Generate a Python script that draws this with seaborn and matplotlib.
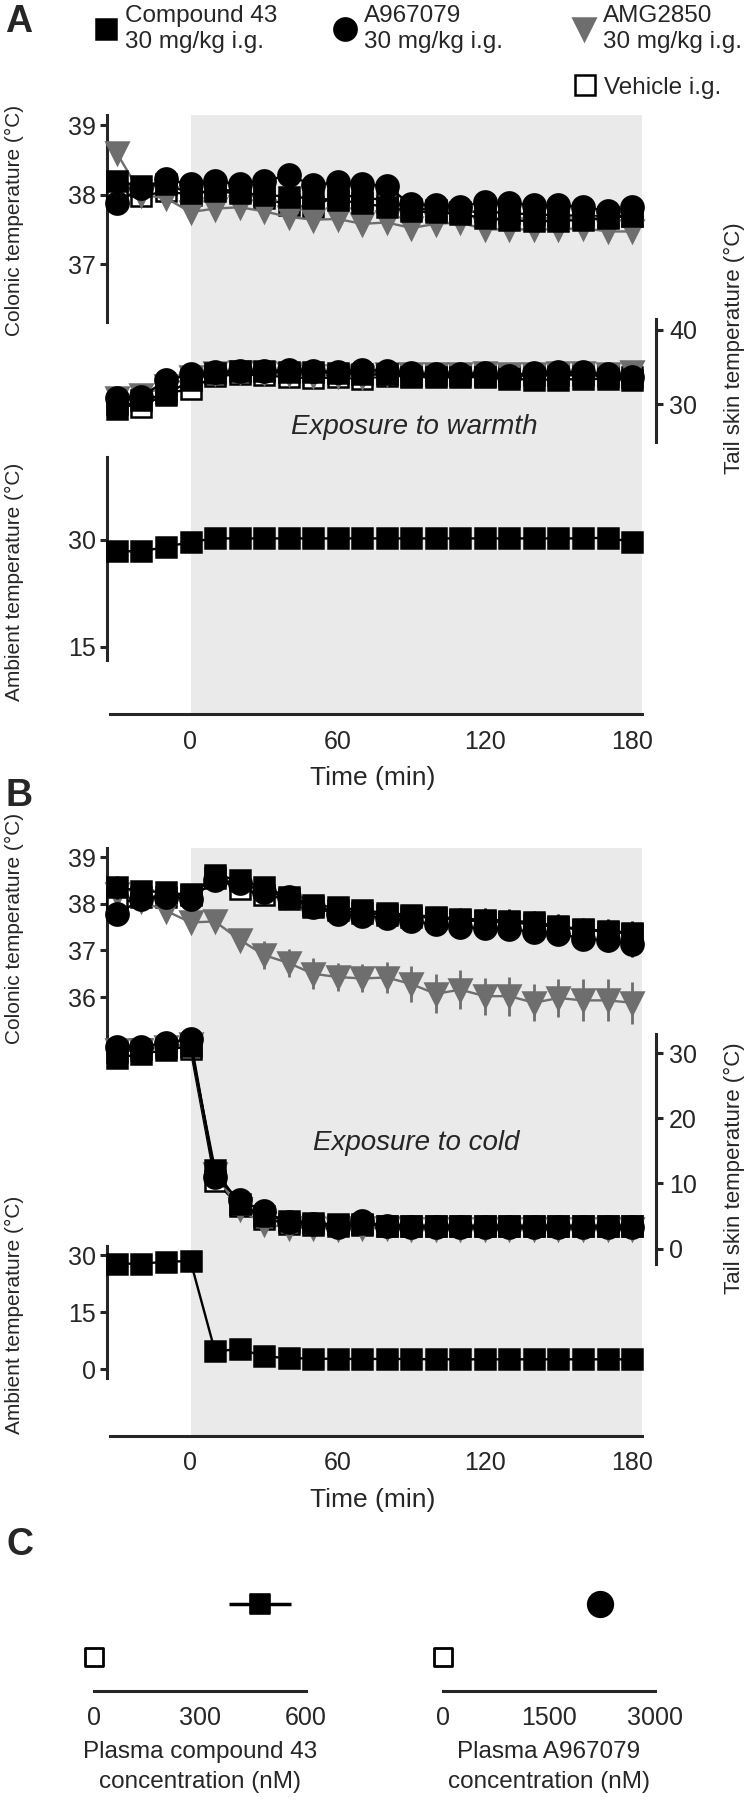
import matplotlib
matplotlib.use("Agg")
import matplotlib.pyplot as plt
import seaborn as sns
from matplotlib.lines import Line2D

# ---------------- data ----------------
time_min = [-30, -20, -10, 0, 10, 20, 30, 40, 50, 60, 70, 80, 90, 100,
            110, 120, 130, 140, 150, 160, 170, 180]

# Panel A (exposure to warmth)
warm_col_c43 = [38.20, 38.12, 38.15, 38.02, 38.05, 38.02, 38.00, 37.97, 37.95, 37.92, 37.88,
                37.82, 37.76, 37.75, 37.72, 37.66, 37.63, 37.62, 37.62, 37.64, 37.66, 37.70]
warm_col_a967 = [37.88, 38.10, 38.22, 38.15, 38.20, 38.15, 38.20, 38.28, 38.14, 38.18, 38.16,
                 38.12, 37.86, 37.85, 37.83, 37.90, 37.88, 37.85, 37.85, 37.82, 37.77, 37.82]
warm_col_amg = [38.60, 38.00, 37.95, 37.75, 37.80, 37.82, 37.76, 37.68, 37.64, 37.65, 37.58,
                37.60, 37.52, 37.58, 37.60, 37.50, 37.50, 37.50, 37.50, 37.52, 37.47, 37.47]
warm_col_veh = [38.02, 37.98, 38.05, 38.00, 38.08, 38.05, 37.95, 37.85, 37.82, 38.00, 37.96,
                37.92, 37.80, 37.78, 37.75, 37.76, 37.73, 37.72, 37.70, 37.70, 37.68, 37.70]
warm_col_err = [0.10] * 22

warm_tail_c43 = [29.4, 30.6, 31.3, 33.2, 34.2, 34.4, 34.4, 34.3, 34.3, 34.2, 34.0,
                 34.0, 33.7, 33.6, 33.7, 33.6, 33.4, 33.3, 33.3, 33.4, 33.4, 33.3]
warm_tail_a967 = [30.8, 31.0, 33.2, 34.0, 34.3, 34.5, 34.4, 34.6, 34.5, 34.3, 34.6,
                  34.5, 34.2, 34.0, 34.0, 34.2, 33.8, 34.2, 34.3, 34.3, 34.0, 33.7]
warm_tail_amg = [30.8, 31.2, 32.4, 33.6, 34.2, 34.3, 34.2, 34.0, 33.8, 33.8, 33.6,
                 34.0, 34.0, 34.1, 34.0, 34.2, 34.0, 34.1, 34.2, 34.2, 34.1, 34.3]
warm_tail_veh = [30.0, 29.6, 31.5, 32.0, 33.8, 34.0, 33.9, 33.6, 33.5, 33.6, 33.4,
                 33.8, 33.8, 33.9, 33.9, 33.8, 33.8, 33.9, 33.9, 33.9, 33.8, 33.6]
warm_tail_err = [0.5] * 22

warm_ambient = [28.4, 28.4, 29.0, 29.7, 30.2, 30.2, 30.2, 30.2, 30.2, 30.2, 30.2,
                30.2, 30.2, 30.2, 30.2, 30.2, 30.2, 30.2, 30.2, 30.2, 30.3, 29.7]

# Panel B (exposure to cold)
cold_col_c43 = [38.35, 38.27, 38.25, 38.18, 38.62, 38.50, 38.35, 38.15, 37.97, 37.92, 37.86,
                37.80, 37.76, 37.72, 37.68, 37.66, 37.64, 37.60, 37.52, 37.45, 37.42, 37.38]
cold_col_a967 = [37.77, 38.10, 38.15, 38.10, 38.50, 38.45, 38.26, 38.15, 37.92, 37.78, 37.73,
                 37.70, 37.62, 37.56, 37.50, 37.48, 37.45, 37.40, 37.36, 37.25, 37.22, 37.13]
cold_col_amg = [38.20, 38.05, 37.85, 37.60, 37.62, 37.23, 36.90, 36.73, 36.50, 36.43, 36.40,
                36.42, 36.28, 36.07, 36.16, 36.02, 36.02, 35.88, 35.98, 35.93, 35.93, 35.88]
cold_col_veh = [37.97, 38.15, 38.15, 38.20, 38.55, 38.32, 38.18, 38.10, 37.92, 37.86, 37.80,
                37.76, 37.72, 37.70, 37.65, 37.62, 37.60, 37.56, 37.50, 37.44, 37.40, 37.36]
cold_col_err_c43 = [0.25, 0.12, 0.12, 0.10, 0.15, 0.12, 0.12, 0.12, 0.15, 0.18, 0.18,
                    0.18, 0.20, 0.22, 0.22, 0.24, 0.24, 0.25, 0.25, 0.25, 0.25, 0.25]
cold_col_err_a967 = [0.10, 0.10, 0.10, 0.10, 0.12, 0.12, 0.12, 0.12, 0.15, 0.18, 0.18,
                     0.18, 0.20, 0.22, 0.22, 0.22, 0.22, 0.24, 0.24, 0.25, 0.25, 0.28]
cold_col_err_amg = [0.06, 0.06, 0.10, 0.10, 0.12, 0.18, 0.30, 0.30, 0.33, 0.30, 0.30,
                    0.33, 0.38, 0.42, 0.42, 0.40, 0.42, 0.40, 0.40, 0.45, 0.45, 0.45]
cold_col_err_veh = [0.12] * 22

cold_tail_c43 = [29.3, 29.9, 30.5, 31.1, 12.1, 6.8, 5.0, 4.3, 3.9, 3.7, 3.8,
                 3.5, 3.5, 3.4, 3.4, 3.4, 3.4, 3.4, 3.4, 3.4, 3.4, 3.4]
cold_tail_a967 = [31.0, 31.0, 31.6, 32.2, 11.0, 7.5, 5.7, 4.0, 3.8, 3.3, 4.2,
                  3.4, 3.3, 3.3, 3.3, 3.3, 3.3, 3.3, 3.3, 3.3, 3.3, 3.3]
cold_tail_amg = [30.5, 30.5, 31.0, 31.4, 11.5, 6.0, 3.8, 3.2, 3.2, 3.0, 3.2,
                 3.1, 3.0, 3.0, 3.0, 3.0, 3.0, 3.0, 3.0, 3.0, 3.0, 3.0]
cold_tail_veh = [30.2, 30.6, 31.0, 30.7, 10.4, 6.5, 4.6, 3.8, 3.6, 3.5, 3.6,
                 3.5, 3.5, 3.5, 3.5, 3.5, 3.5, 3.5, 3.5, 3.5, 3.5, 3.5]
cold_tail_err = [0.6] * 22

cold_ambient = [27.8, 27.8, 28.3, 28.5, 4.7, 5.3, 3.4, 2.9, 2.8, 2.7, 2.7,
                2.7, 2.7, 2.6, 2.6, 2.6, 2.6, 2.6, 2.6, 2.6, 2.6, 2.6]

# Panel C (plasma concentrations)
c_rows = [1, 0]                      # drug row, vehicle row
plasma_c43 = [469, 0]
plasma_c43_err = [88, 0]
plasma_a967 = [2235, 0]

legend_labels = ["Compound 43\n30 mg/kg i.g.", "A967079\n30 mg/kg i.g.",
                 "AMG2850\n30 mg/kg i.g.", "Vehicle i.g."]

# ---------------- style ----------------
sns.set_style("white")
plt.rcParams["font.family"] = ["Liberation Sans", "DejaVu Sans"]
FS = 18
FS_LEG = 17.5
FS_YLAB_L = 15
FS_YLAB_R = 16
GRAY_BG = "#eaeaea"
TRI = "#6e6e6e"
LW_AX = 2.2

W, H = 750, 1800
fig = plt.figure(figsize=(7.5, 18), dpi=100)
fig.patch.set_facecolor("white")


def add_ax(left, top, right, bottom):
    a = fig.add_axes([left / W, 1 - bottom / H, (right - left) / W, (bottom - top) / H])
    a.set_facecolor("none")
    for s in a.spines.values():
        s.set_visible(False)
        s.set_linewidth(LW_AX)
    return a


T0_PX, T_SCALE = 190.5, 2.453
TLIM = (-33, 184)
XL = T0_PX + TLIM[0] * T_SCALE
XR = T0_PX + TLIM[1] * T_SCALE

styles = {
    "veh": dict(marker="s", color="black", mfc="white", mec="black", ms=14, z=3),
    "amg": dict(marker="v", color=TRI, mfc=TRI, mec=TRI, ms=16, z=4),
    "c43": dict(marker="s", color="black", mfc="black", mec="black", ms=15, z=5),
    "a967": dict(marker="o", color="black", mfc="black", mec="black", ms=16, z=6),
}


def series(ax, key, vals, errs=None):
    st = styles[key]
    if errs is not None:
        ax.errorbar(time_min, vals, yerr=errs, fmt="none", ecolor=st["color"],
                    elinewidth=2, capsize=0, zorder=st["z"] - 0.5, clip_on=False)
    sns.lineplot(x=time_min, y=vals, ax=ax, color=st["color"], marker=st["marker"],
                 markersize=st["ms"], markerfacecolor=st["mfc"], markeredgecolor=st["mec"],
                 markeredgewidth=1.8, linewidth=1.7, estimator=None, sort=False,
                 zorder=st["z"], clip_on=False, legend=False)


def left_axis(ax, ticks, ylim):
    ax.set_xlim(*TLIM)
    ax.set_ylim(*ylim)
    ax.spines["left"].set_visible(True)
    ax.spines["left"].set_position(("outward", 1.5))
    ax.set_xticks([])
    ax.set_yticks(ticks)
    ax.yaxis.set_ticks_position("left")
    ax.tick_params(axis="y", length=5, width=LW_AX, labelsize=FS, pad=3, direction="out")
    ax.set_xlabel("")
    ax.set_ylabel("")


def right_axis(ax, ticks, ylim):
    ax.set_xlim(*TLIM)
    ax.set_ylim(*ylim)
    ax.spines["right"].set_visible(True)
    ax.spines["right"].set_position(("outward", 10.5))
    ax.set_xticks([])
    ax.set_yticks(ticks)
    ax.yaxis.set_ticks_position("right")
    ax.tick_params(axis="y", length=5, width=LW_AX, labelsize=FS, pad=4, direction="out",
                   labelright=True, labelleft=False)
    ax.set_xlabel("")
    ax.set_ylabel("")


def background(top, bottom, label_y):
    bg = add_ax(XL, top, XR, bottom)
    bg.set_xlim(*TLIM)
    bg.set_ylim(0, 1)
    bg.axvspan(0, TLIM[1], color=GRAY_BG, zorder=0, lw=0)
    bg.spines["bottom"].set_visible(True)
    bg.set_yticks([])
    bg.set_xticks([0, 60, 120, 180])
    bg.tick_params(axis="x", length=6, width=LW_AX, labelsize=FS, pad=5, direction="out")
    bg.set_xlabel("Time (min)", fontsize=19)
    bg.xaxis.label.set_va("center")
    bg.xaxis.set_label_coords(373 / W, 1 - label_y / H, transform=fig.transFigure)
    return bg


def ylab(ax, text, x, y, fs):
    ax.set_ylabel(text, fontsize=fs)
    ax.yaxis.label.set_va("center")
    ax.yaxis.set_label_coords(x / W, 1 - y / H, transform=fig.transFigure)


# ---------------- Panel A ----------------
background(115, 714.4, 777.6)

axA1 = add_ax(XL, 115, XR, 321.6)
series(axA1, "veh", warm_col_veh, warm_col_err)
series(axA1, "amg", warm_col_amg, warm_col_err)
series(axA1, "c43", warm_col_c43, warm_col_err)
series(axA1, "a967", warm_col_a967, warm_col_err)
left_axis(axA1, [37, 38, 39], (36.17, 39.15))
ylab(axA1, "Colonic temperature (°C)", 14, 220, FS_YLAB_L)

axA2 = add_ax(XL, 319.3, XR, 442.2)
series(axA2, "veh", warm_tail_veh, warm_tail_err)
series(axA2, "amg", warm_tail_amg, warm_tail_err)
series(axA2, "c43", warm_tail_c43, warm_tail_err)
series(axA2, "a967", warm_tail_a967, warm_tail_err)
right_axis(axA2, [30, 40], (24.9, 41.4))
axA2.yaxis.set_label_position("right")
ylab(axA2, "Tail skin temperature (°C)", 734, 348, FS_YLAB_R)

axA3 = add_ax(XL, 457.1, XR, 660.4)
series(axA3, "c43", warm_ambient)
left_axis(axA3, [15, 30], (13.1, 41.6))
ylab(axA3, "Ambient temperature (°C)", 14, 582, FS_YLAB_L)

fig.text(414 / W, 1 - 427 / H, "Exposure to warmth", fontsize=20, style="italic",
         ha="center", va="center")

# ---------------- Panel B ----------------
background(847.7, 1435.8, 1500)

axB1 = add_ax(XL, 847.7, XR, 1041)
series(axB1, "veh", cold_col_veh, cold_col_err_veh)
series(axB1, "amg", cold_col_amg, cold_col_err_amg)
series(axB1, "c43", cold_col_c43, cold_col_err_c43)
series(axB1, "a967", cold_col_a967, cold_col_err_a967)
left_axis(axB1, [36, 37, 38, 39], (35.06, 39.2))
ylab(axB1, "Colonic temperature (°C)", 14, 928, FS_YLAB_L)

axB2 = add_ax(XL, 1033.7, XR, 1263.5)
series(axB2, "veh", cold_tail_veh, cold_tail_err)
series(axB2, "amg", cold_tail_amg, cold_tail_err)
series(axB2, "c43", cold_tail_c43, cold_tail_err)
series(axB2, "a967", cold_tail_a967, cold_tail_err)
right_axis(axB2, [0, 10, 20, 30], (-2.3, 33.0))
axB2.yaxis.set_label_position("right")
ylab(axB2, "Tail skin temperature (°C)", 734, 1168, FS_YLAB_R)

axB3 = add_ax(XL, 1246.2, XR, 1378.3)
series(axB3, "c43", cold_ambient)
left_axis(axB3, [0, 15, 30], (-2.4, 32.4))
ylab(axB3, "Ambient temperature (°C)", 14, 1315, FS_YLAB_L)

fig.text(416 / W, 1 - 1143 / H, "Exposure to cold", fontsize=20, style="italic",
         ha="center", va="center")

# ---------------- Panel C ----------------
def conc_axis(left, right, xmax, ticks, label):
    ax = add_ax(left, 1580, right, 1691)
    ax.set_xlim(0, xmax)
    ax.set_ylim(-0.66, 1.47)
    ax.spines["bottom"].set_visible(True)
    ax.set_yticks([])
    ax.set_xticks(ticks)
    ax.tick_params(axis="x", length=6, width=LW_AX, labelsize=FS, pad=5, direction="out")
    ax.set_xlabel(label, fontsize=17.5, linespacing=1.45, labelpad=8)
    return ax


axC1 = conc_axis(94.3, 306, 600, [0, 300, 600], "Plasma compound 43\nconcentration (nM)")
axC1.errorbar(plasma_c43[:1], c_rows[:1], xerr=plasma_c43_err[:1], fmt="none",
              ecolor="black", elinewidth=2.5, capsize=0, zorder=3, clip_on=False)
sns.scatterplot(x=plasma_c43[:1], y=c_rows[:1], ax=axC1, marker="s", s=210,
                color="black", edgecolor="black", zorder=4, clip_on=False, legend=False)
sns.scatterplot(x=plasma_c43[1:], y=c_rows[1:], ax=axC1, marker="s", s=180,
                color="white", edgecolor="black", linewidth=2, zorder=4, clip_on=False,
                legend=False)
axC1.set_ylabel("")

axC2 = conc_axis(442.6, 654.5, 3000, [0, 1500, 3000], "Plasma A967079\nconcentration (nM)")
sns.scatterplot(x=plasma_a967[:1], y=c_rows[:1], ax=axC2, marker="o", s=330,
                color="black", edgecolor="black", zorder=4, clip_on=False, legend=False)
sns.scatterplot(x=plasma_a967[1:], y=c_rows[1:], ax=axC2, marker="s", s=180,
                color="white", edgecolor="black", linewidth=2, zorder=4, clip_on=False,
                legend=False)
axC2.set_ylabel("")

# ---------------- legend ----------------
handle_keys = ["c43", "a967", "amg", "veh"]
handle_pos = [(106, 29), (345, 29), (584, 29), (585, 88)]
for key, lab, (hx, hy) in zip(handle_keys, legend_labels, handle_pos):
    st = styles[key]
    h = Line2D([], [], marker=st["marker"], color=st["color"], markerfacecolor=st["mfc"],
               markeredgecolor=st["mec"], markeredgewidth=1.8, markersize=st["ms"],
               linestyle="none")
    hl = 1.0
    fs_px = FS_LEG * 100 / 72
    fig.legend(handles=[h], labels=[lab], loc="center left",
               bbox_to_anchor=((hx - hl * fs_px / 2) / W, 1 - hy / H),
               frameon=False, fontsize=FS_LEG, handlelength=hl, handletextpad=0.3,
               borderpad=0, borderaxespad=0)

# ---------------- panel letters ----------------
for letter, (lx, ly) in zip(["A", "B", "C"], [(19, 22), (19, 796), (20, 1545)]):
    fig.text(lx / W, 1 - ly / H, letter, fontsize=27, fontweight="bold",
             ha="center", va="center")

fig.savefig("out.png", dpi=100, facecolor="white")
